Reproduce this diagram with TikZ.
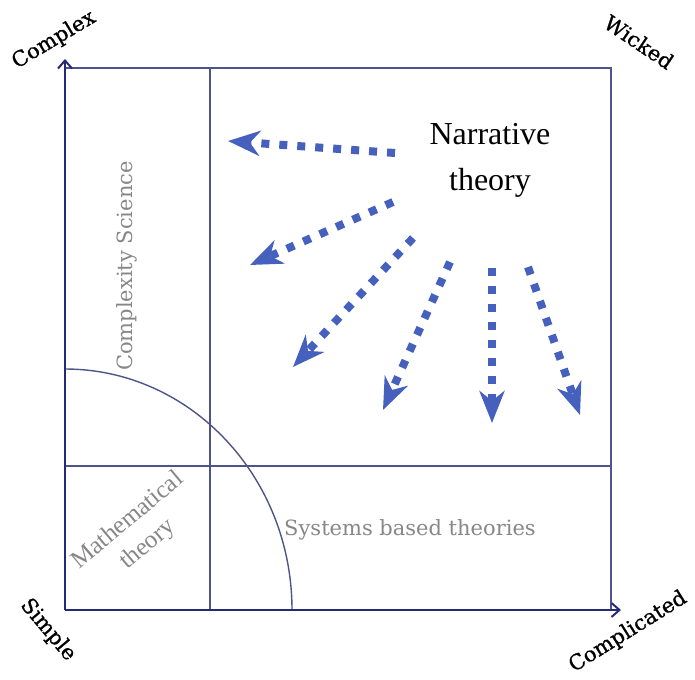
\documentclass[tikz,border=0pt]{standalone}
\usepackage{fontspec}
\setmainfont{Liberation Serif}
\newfontfamily\cornerfont[FakeBold=0.8]{DejaVu Serif}
\newfontfamily\zonefont{DejaVu Serif}
\usepackage{tikz}
\usetikzlibrary{arrows.meta}
\definecolor{axisnavy}{RGB}{38,42,115}
\definecolor{gridnavy}{RGB}{78,84,135}
\definecolor{spreadblue}{RGB}{70,96,190}
\definecolor{zonegray}{RGB}{135,135,135}
\tikzstyle{axis}=[draw=axisnavy, line width=2.8pt, -{Straight Barb[length=8pt,width=14pt,line width=2pt]}]
\tikzstyle{grid}=[draw=gridnavy, line width=1.3pt]
\tikzstyle{spread}=[draw=spreadblue, line width=8pt, dash pattern=on 8pt off 10pt,
        -{Stealth[length=32pt,width=25pt,inset=10pt]}]
\tikzstyle{corner}=[font=\cornerfont\fontsize{21}{24}\selectfont, text=black]
\tikzstyle{zone}=[font=\zonefont\fontsize{21}{24}\selectfont, text=zonegray]

\begin{document}
\begin{tikzpicture}[x=1pt, y=-1pt]
\useasboundingbox (0,0) rectangle (695,679);

% frame and quadrants
\coordinate (orig) at (65,610);
\coordinate (tl) at (65,68);
\coordinate (tr) at (611,68);
\coordinate (br) at (611,610);
\coordinate (vtop) at (210,68);
\coordinate (vbot) at (210,610);
\coordinate (hleft) at (65,466);
\coordinate (hright) at (611,466);
\draw[grid] (tl) -- (tr) -- (br);
\draw[grid] (vtop) -- (vbot);
\draw[grid] (hleft) -- (hright);
\draw[grid, line width=1.4pt] (65,369) arc[start angle=90, end angle=0, x radius=227pt, y radius=241pt];

% axes
\coordinate (ytip) at (65,59);
\coordinate (xtip) at (621,610);
\draw[axis] (orig) -- (ytip);
\draw[axis] (orig) -- (xtip);

% corner labels
\node[corner, rotate=31] (complex) at (54,40) {Complex};
\node[corner, rotate=-34] (wicked) at (639,42) {Wicked};
\node[corner, rotate=-50] (simple) at (48,630) {Simple};
\node[corner, rotate=32] (complicated) at (628,632) {Complicated};

% zones
\node[zone, rotate=90] (cplx) at (127,266) {Complexity Science};
\node[zone] (systems) at (410,530) {Systems based theories};
\node[text=zonegray, rotate=40, align=center, font=\fontsize{25}{31}\selectfont] (maths) at (138,533) {Mathematical\\theory};

% narrative theory spreading out
\node[align=center, font=\fontsize{32}{46}\selectfont] (narr) at (490,160) {Narrative\\theory};
\coordinate (s1) at (395,153); \coordinate (e1) at (228,141);
\coordinate (s2) at (393,202); \coordinate (e2) at (250,265);
\coordinate (s3) at (413,238); \coordinate (e3) at (293,367);
\coordinate (s4) at (450,262); \coordinate (e4) at (383,410);
\coordinate (s5) at (492,268); \coordinate (e5) at (492,423);
\coordinate (s6) at (528,267); \coordinate (e6) at (580,415);
\draw[spread] (s1) -- (e1);
\draw[spread] (s2) -- (e2);
\draw[spread] (s3) -- (e3);
\draw[spread] (s4) -- (e4);
\draw[spread] (s5) -- (e5);
\draw[spread] (s6) -- (e6);

\end{tikzpicture}
\end{document}
